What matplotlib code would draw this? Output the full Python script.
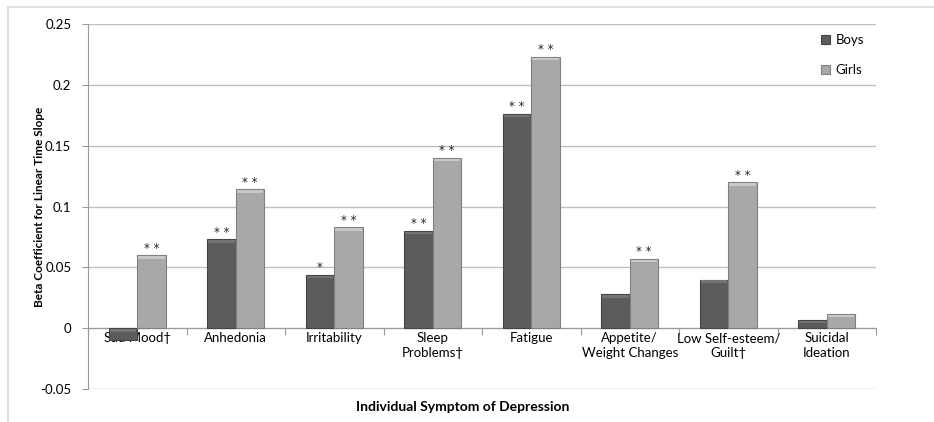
import numpy as np
import matplotlib.pyplot as plt
from matplotlib.patches import Rectangle

categories = ["Sad Mood\u2020", "Anhedonia", "Irritability", "Sleep\nProblems\u2020",
              "Fatigue", "Appetite/\nWeight Changes", "Low Self-esteem/\nGuilt\u2020",
              "Suicidal\nIdeation"]
boys = [-0.010, 0.073, 0.044, 0.080, 0.176, 0.028, 0.040, 0.007]
girls = [0.060, 0.114, 0.083, 0.140, 0.223, 0.057, 0.120, 0.012]
boys_sig = ["", "**", "*", "**", "**", "", "", ""]
girls_sig = ["**", "**", "**", "**", "**", "**", "**", ""]
yticks = [-0.05, 0, 0.05, 0.1, 0.15, 0.2, 0.25]
ytick_labels = ["-0.05", "0", "0.05", "0.1", "0.15", "0.2", "0.25"]

plt.rcParams["font.family"] = ["Lato", "DejaVu Sans"]

fig = plt.figure(figsize=(9.34, 4.22), dpi=100)
ax = fig.add_axes([88 / 934, 1 - 389 / 422, (876 - 88) / 934, (389 - 24) / 422])

# outer chart border
fig.patches.append(Rectangle((8 / 934, -0.1), 1.2, 1 - 7 / 422 + 0.1,
                             transform=fig.transFigure, fill=False,
                             edgecolor="#d9d9d9", linewidth=1.2))

x = np.arange(len(categories))
w = 0.29
b1 = ax.bar(x - w / 2, boys, w, color="#5c5c5c", edgecolor="#444444",
            linewidth=0.8, label="Boys", zorder=3)
b2 = ax.bar(x + w / 2, girls, w, color="#a8a8a8", edgecolor="#808080",
            linewidth=0.8, label="Girls", zorder=3)

# soft bevel on bar tops
for bars, hl in ((b1, "#747474"), (b2, "#c8c8c8")):
    for r in bars:
        h = r.get_height()
        top = h if h >= 0 else 0
        ax.add_patch(Rectangle((r.get_x() + 0.012, top - 0.0028), r.get_width() - 0.024,
                               0.002, color=hl, zorder=4, linewidth=0))

for i in range(len(categories)):
    if boys_sig[i]:
        ax.text(x[i] - w / 2, boys[i] + 0.0005, " ".join(boys_sig[i]), ha="center",
                va="bottom", fontsize=8.5, color="#222222", family="DejaVu Sans")
    if girls_sig[i]:
        ax.text(x[i] + w / 2, girls[i] + 0.0005, " ".join(girls_sig[i]), ha="center",
                va="bottom", fontsize=8.5, color="#222222", family="DejaVu Sans")

ax.set_xlim(-0.5, len(categories) - 0.5)
ax.set_ylim(-0.05, 0.25)
ax.set_yticks(yticks)
ax.set_yticklabels(ytick_labels, fontsize=9.5)
ax.yaxis.grid(True, color="#bfbfbf", linewidth=1, zorder=0)
ax.tick_params(axis="y", length=4, color="#9a9a9a", pad=8)

ax.spines["bottom"].set_position(("data", 0))
ax.spines["bottom"].set_color("#9a9a9a")
ax.spines["left"].set_color("#9a9a9a")
ax.spines["top"].set_visible(False)
ax.spines["right"].set_visible(False)

ax.set_xticks(np.arange(len(categories) + 1) - 0.5)
ax.set_xticklabels([])
ax.tick_params(axis="x", which="major", length=5, color="#9a9a9a")
ax.set_xticks(x, minor=True)
ax.set_xticklabels(categories, minor=True, fontsize=9.5, linespacing=1.3)
ax.tick_params(axis="x", which="minor", length=0, pad=3)

ax.set_ylabel("Beta Coefficient for Linear Time Slope", fontsize=8.5,
              fontweight="bold")
ax.yaxis.set_label_coords(-43 / 788, 0.5)
fig.text(0.495, 1 - 407 / 422, "Individual Symptom of Depression", ha="center",
         va="center", fontsize=10, fontweight="bold")

ax.legend(loc="upper right", bbox_to_anchor=(1.0, 1.005), frameon=False,
          fontsize=9.5, handlelength=0.7, handleheight=0.7, labelspacing=1.35,
          handletextpad=0.4)

fig.savefig("out.png", dpi=100)
